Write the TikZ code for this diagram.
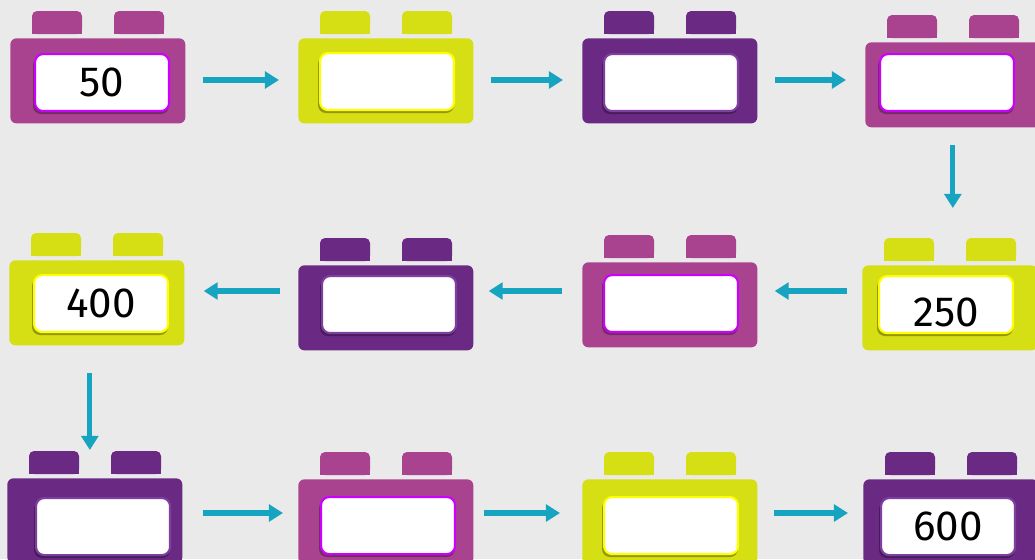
\documentclass[tikz,border=0pt]{standalone}
\usepackage{fontspec}
\setmainfont{Fira Sans}
\usetikzlibrary{arrows.meta}
\definecolor{paper}{HTML}{EAEAEA}
\definecolor{brickpink}{HTML}{AA438F}
\definecolor{brickpinkline}{HTML}{CC00FF}
\definecolor{brickgreen}{HTML}{D6DE14}
\definecolor{brickgreenline}{HTML}{FFFF00}
\definecolor{brickpurple}{HTML}{6A2A84}
\definecolor{brickpurpleline}{HTML}{7E3FA0}
\definecolor{arrowblue}{HTML}{16A4C0}
% name, left, top, window left, window top, colour, label
\newcommand\brick[7]{%
	\node[body, fill=#6] (#1) at (#2,#3) {};
	\fill[#6, rounded corners=0.1cm] (#2+22,#3-27) rectangle +(50,23);
	\fill[#6] (#2+22,#3-15) rectangle +(50,11);
	\fill[#6, rounded corners=0.1cm] (#2+104,#3-27) rectangle +(50,23);
	\fill[#6] (#2+104,#3-15) rectangle +(50,11);
	\fill[#6!55!black, opacity=0.7, rounded corners=0.16cm] (#4-1,#5+4) rectangle +(136,57);
	\node[window, draw=#6line] (#1t) at (#4,#5) {#7};
}
\begin{document}
\begin{tikzpicture}[x=0.02cm, y=-0.02cm, line join=round, >={Triangle[length=8pt,width=9.5pt]},
	body/.style={anchor=north west, minimum width=3.5cm, minimum height=1.7cm, inner sep=0, rounded corners=0.12cm},
	window/.style={anchor=north west, fill=white, minimum width=2.68cm, minimum height=1.14cm, inner sep=0, rounded corners=0.16cm, line width=1.2pt, font=\fontsize{24}{28}\selectfont},
	flow/.style={->, draw=arrowblue, line width=2.9pt}]
	\useasboundingbox (0,0) rectangle (1035,559);
	\fill[paper] (0,0) rectangle (1035,559);
	\clip (0,0) rectangle (1035,559);
	\coordinate (r1) at (0,80);
	\coordinate (r2) at (0,291);
	\coordinate (r3) at (0,513);
	% top row
	\brick{b1}{10}{38}{34}{53}{brickpink}{50}
	\brick{b2}{298}{38}{319}{52}{brickgreen}{}
	\brick{b3}{582}{38}{603}{53}{brickpurple}{}
	\brick{b4}{865}{42}{879}{53}{brickpink}{}
	% middle row
	\brick{b5}{9}{260}{33}{274}{brickgreen}{400}
	\brick{b6}{298}{265}{321}{275}{brickpurple}{}
	\brick{b7}{582}{262}{603}{274}{brickpink}{}
	\brick{b8}{862}{265}{878}{275}{brickgreen}{\raisebox{-0.43cm}[0pt][0pt]{250}}
	% bottom row
	\brick{b9}{7}{478}{35}{497}{brickpurple}{}
	\brick{b10}{298}{479}{320}{496}{brickpink}{}
	\brick{b11}{582}{479}{603}{496}{brickgreen}{}
	\brick{b12}{863}{479}{880}{497}{brickpurple}{600}
	% arrows
	\draw[flow, shorten <=0.34cm, shorten >=0.38cm] (b1.east |- r1) -- (b2.west |- r1);
	\draw[flow, shorten <=0.34cm, shorten >=0.38cm] (b2.east |- r1) -- (b3.west |- r1);
	\draw[flow, shorten <=0.34cm, shorten >=0.38cm] (b3.east |- r1) -- (b4.west |- r1);
	\draw[flow, shorten <=0.34cm, shorten >=1.14cm] (b4.south) -- (b4.south |- b8.north);
	\draw[flow, shorten <=0.3cm, shorten >=0.34cm] (b8.west |- r2) -- (b7.east |- r2);
	\draw[flow, shorten <=0.4cm, shorten >=0.3cm] (b7.west |- r2) -- (b6.east |- r2);
	\draw[flow, shorten <=0.36cm, shorten >=0.38cm] (b6.west |- r2) -- (b5.east |- r2);
	\draw[flow, shorten <=0.54cm, shorten >=0.56cm] ([xshift=-0.14cm]b5.south) -- ([xshift=-0.14cm]b5.south |- b9.north);
	\draw[flow, shorten <=0.4cm, shorten >=0.3cm] (b9.east |- r3) -- (b10.west |- r3);
	\draw[flow, shorten <=0.2cm, shorten >=0.44cm] (b10.east |- r3) -- (b11.west |- r3);
	\draw[flow, shorten <=0.32cm, shorten >=0.3cm] (b11.east |- r3) -- (b12.west |- r3);
\end{tikzpicture}
\end{document}
